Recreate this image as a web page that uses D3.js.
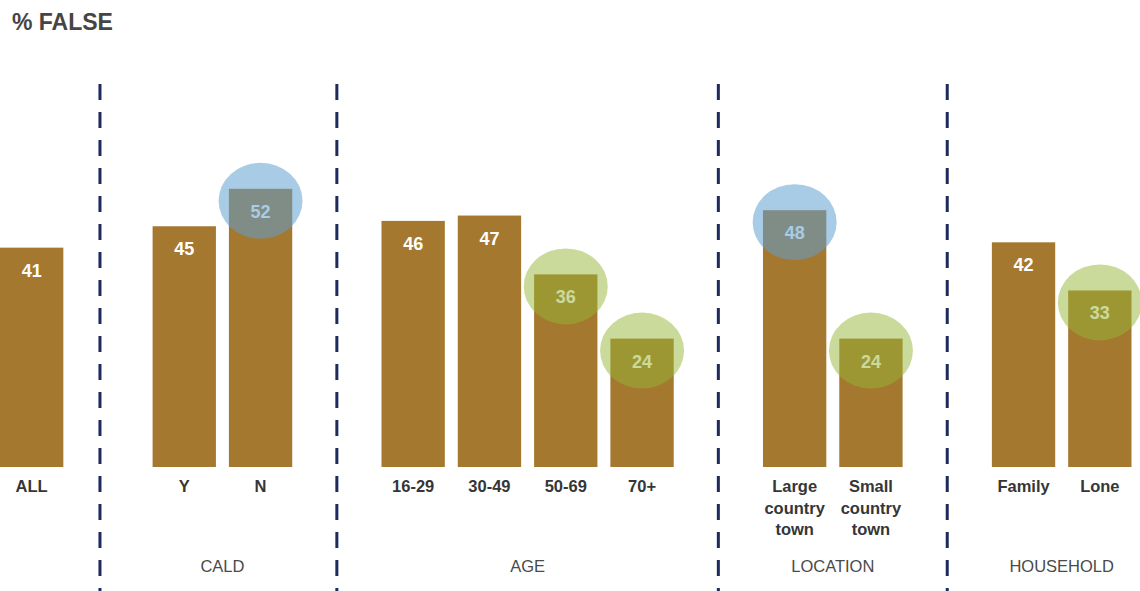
<!DOCTYPE html>
<html>
<head>
<meta charset="utf-8">
<script src="https://cdn.jsdelivr.net/npm/d3@7"></script>
<style>
  html, body { margin: 0; padding: 0; background: #ffffff; }
  svg { display: block; }
</style>
</head>
<body>
<svg id="chart" width="1140" height="591"></svg>
<script>
// Share of respondents answering "false", by demographic group
const categories = ["ALL", "Y", "N", "16-29", "30-49", "50-69", "70+",
                    "Large country town", "Small country town", "Family", "Lone"];
const groupOf    = ["", "CALD", "CALD", "AGE", "AGE", "AGE", "AGE",
                    "LOCATION", "LOCATION", "HOUSEHOLD", "HOUSEHOLD"];
const values     = [41, 45, 52, 46, 47, 36, 24, 48, 24, 42, 33];
// "high" = notably above average, "low" = notably below average
const highlights = [null, null, "high", null, null, "low", "low", "high", "low", null, "low"];
const groupNames = ["CALD", "AGE", "LOCATION", "HOUSEHOLD"];

const W = 1140, H = 591;
const baseY = 467;
const svg = d3.select("#chart");

// Slots: one per bar, plus an empty slot between groups (holds the divider)
const slots = [];
const bars = categories.map((c, i) => ({ cat: c, group: groupOf[i], value: values[i], mark: highlights[i] }));
bars.forEach((b, i) => {
  if (i > 0 && b.group !== bars[i - 1].group) slots.push({ gap: true, key: "gap" + i });
  b.key = "bar" + i;
  slots.push(b);
});

const x = d3.scaleBand()
  .domain(slots.map(s => s.key))
  .range([0, 1131.5])
  .paddingInner(0.17)
  .paddingOuter(0);

const y = d3.scaleLinear().domain([0, 60]).range([baseY, baseY - 5.35 * 60]);

// Title
svg.append("text")
  .attr("x", 12).attr("y", 30)
  .attr("font-family", "Liberation Sans, Arial, sans-serif")
  .attr("font-size", 23).attr("font-weight", "bold")
  .attr("fill", "#454545")
  .text("% FALSE");

// Group dividers
const gapSlots = slots.filter(s => s.gap);
svg.append("g").selectAll("line")
  .data(gapSlots)
  .join("line")
  .attr("x1", (d, i) => x(d.key) + x.bandwidth() / 2 - (i === 0 ? 8 : 0))
  .attr("x2", (d, i) => x(d.key) + x.bandwidth() / 2 - (i === 0 ? 8 : 0))
  .attr("y1", 84).attr("y2", H)
  .attr("stroke", "#1e2a5c")
  .attr("stroke-width", 3)
  .attr("stroke-dasharray", "16 12");

// Bars
svg.append("g").selectAll("rect")
  .data(bars)
  .join("rect")
  .attr("x", d => x(d.key))
  .attr("width", x.bandwidth())
  .attr("y", d => y(d.value))
  .attr("height", d => y(0) - y(d.value))
  .attr("fill", "#a5782f");

// Value labels
svg.append("g").selectAll("text")
  .data(bars)
  .join("text")
  .attr("x", d => x(d.key) + x.bandwidth() / 2)
  .attr("y", d => y(d.value) + 29)
  .attr("text-anchor", "middle")
  .attr("font-family", "Liberation Sans, Arial, sans-serif")
  .attr("font-size", 18).attr("font-weight", "bold")
  .attr("fill", "#ffffff")
  .text(d => d.value);

// Highlight ellipses
const markColor = { high: "#5e9fd1", low: "#96b538" };
svg.append("g").selectAll("ellipse")
  .data(bars.filter(d => d.mark))
  .join("ellipse")
  .attr("cx", d => x(d.key) + x.bandwidth() / 2)
  .attr("cy", d => y(d.value) + 12)
  .attr("rx", 42).attr("ry", 38)
  .attr("fill", d => markColor[d.mark])
  .attr("fill-opacity", d => d.mark === "high" ? 0.54 : 0.5);

// Category labels (multi-word names wrap one word per line)
const catLabels = svg.append("g").selectAll("text")
  .data(bars)
  .join("text")
  .attr("x", d => x(d.key) + x.bandwidth() / 2)
  .attr("y", 492)
  .attr("text-anchor", "middle")
  .attr("font-family", "Liberation Sans, Arial, sans-serif")
  .attr("font-size", 16.5).attr("font-weight", "bold")
  .attr("fill", "#363636");
catLabels.each(function (d) {
  const words = d.cat.split(" ");
  const t = d3.select(this);
  words.forEach((w, i) => {
    t.append("tspan")
      .attr("x", x(d.key) + x.bandwidth() / 2)
      .attr("dy", i === 0 ? 0 : 21.5)
      .text(w);
  });
});

// Group labels, centred under each group's bars
svg.append("g").selectAll("text")
  .data(groupNames)
  .join("text")
  .attr("x", g => {
    const gb = bars.filter(b => b.group === g);
    return (x(gb[0].key) + x(gb[gb.length - 1].key) + x.bandwidth()) / 2;
  })
  .attr("y", 572)
  .attr("text-anchor", "middle")
  .attr("font-family", "Liberation Sans, Arial, sans-serif")
  .attr("font-size", 16.5)
  .attr("fill", "#4a4a4a")
  .text(g => g);
</script>
</body>
</html>
